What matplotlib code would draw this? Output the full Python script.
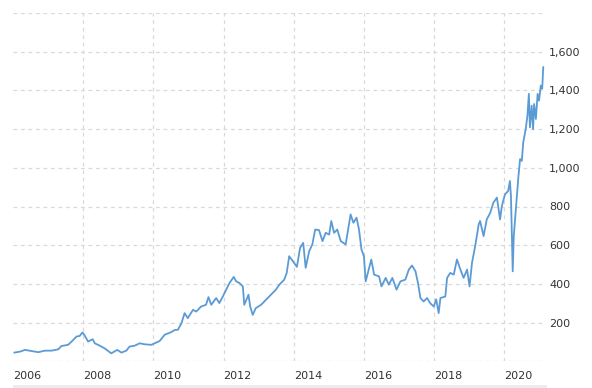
import matplotlib.pyplot as plt
from matplotlib.patches import Rectangle
from matplotlib.ticker import FuncFormatter

# decimal year / price
years = [2006.04, 2006.20, 2006.34, 2006.53, 2006.72, 2006.91, 2007.10, 2007.29, 2007.38, 2007.57,
         2007.67, 2007.81, 2007.90, 2007.98, 2008.03, 2008.14, 2008.27, 2008.33, 2008.47, 2008.61,
         2008.80, 2008.97, 2009.09, 2009.23, 2009.32, 2009.47, 2009.61, 2009.75, 2009.94, 2010.18,
         2010.32, 2010.50, 2010.61, 2010.70, 2010.80, 2010.89, 2010.98, 2011.13, 2011.22, 2011.36,
         2011.50, 2011.57, 2011.65, 2011.79, 2011.88, 2011.98, 2012.17, 2012.29, 2012.36, 2012.45,
         2012.55, 2012.59, 2012.71, 2012.76, 2012.83, 2012.92, 2013.07, 2013.21, 2013.35, 2013.49,
         2013.59, 2013.73, 2013.80, 2013.87, 2013.94, 2014.09, 2014.18, 2014.27, 2014.34, 2014.44,
         2014.53, 2014.61, 2014.72, 2014.82, 2014.91, 2015.01, 2015.07, 2015.15, 2015.24, 2015.34,
         2015.48, 2015.55, 2015.62, 2015.70, 2015.79, 2015.86, 2015.93, 2016.00, 2016.05, 2016.15,
         2016.21, 2016.29, 2016.43, 2016.50, 2016.62, 2016.71, 2016.81, 2016.93, 2017.04, 2017.18,
         2017.28, 2017.37, 2017.47, 2017.54, 2017.61, 2017.70, 2017.80, 2017.89, 2017.99, 2018.06,
         2018.13, 2018.18, 2018.32, 2018.37, 2018.46, 2018.56, 2018.65, 2018.75, 2018.84, 2018.94,
         2019.01, 2019.08, 2019.17, 2019.27, 2019.31, 2019.41, 2019.50, 2019.60, 2019.69, 2019.79,
         2019.88, 2019.93, 2020.02, 2020.11, 2020.16, 2020.19, 2020.24, 2020.27, 2020.33, 2020.40,
         2020.45, 2020.50, 2020.54, 2020.61, 2020.66, 2020.70, 2020.73, 2020.78, 2020.82, 2020.85,
         2020.90, 2020.95, 2020.99, 2021.04, 2021.08, 2021.11]
prices = [45, 50, 59, 53, 47, 55, 55, 62, 79, 85,
          102, 128, 131, 149, 137, 102, 114, 93, 81, 67,
          41, 59, 45, 55, 76, 81, 93, 88, 85, 105,
          137, 150, 162, 163, 197, 249, 223, 266, 257, 283,
          292, 332, 292, 327, 301, 335, 405, 436, 413, 405,
          387, 292, 344, 283, 240, 275, 292, 318, 344, 370,
          396, 422, 457, 543, 526, 488, 586, 612, 483, 569,
          604, 681, 678, 621, 664, 655, 725, 664, 681, 621,
          604, 681, 759, 716, 742, 681, 578, 543, 413, 483,
          526, 448, 439, 387, 431, 396, 431, 370, 413, 422,
          474, 495, 465, 405, 327, 309, 327, 300, 283, 320,
          249, 327, 335, 431, 457, 448, 526, 474, 431, 474,
          387, 509, 595, 707, 725, 647, 733, 768, 820, 846,
          733, 802, 863, 880, 932, 854, 465, 647, 785, 950,
          1045, 1036, 1131, 1200, 1270, 1382, 1209, 1321, 1200, 1330,
          1252, 1382, 1347, 1425, 1408, 1520]

xticks = [2006, 2008, 2010, 2012, 2014, 2016, 2018, 2020]
yticks = [0, 200, 400, 600, 800, 1000, 1200, 1400, 1600, 1800]

fig = plt.figure(figsize=(5.92, 3.88), dpi=100)
ax = fig.add_axes([13 / 592, 26.7 / 388, 532 / 592, 348.3 / 388])

ax.plot(years, prices, color='#5b9bd5', lw=1.3)

ax.set_xlim(2006, 2021.16)
ax.set_ylim(0, 1800)
ax.set_xticks(xticks)
ax.set_yticks(yticks)
ax.yaxis.tick_right()
ax.yaxis.set_major_formatter(FuncFormatter(
    lambda v, p: '' if v in (0, 1800) else '{:,.0f}'.format(v)))

for s in ax.spines.values():
    s.set_visible(False)
ax.tick_params(length=0, labelsize=8, labelcolor='#333333')
ax.tick_params(axis='x', pad=7)
ax.tick_params(axis='y', pad=3)
for lab in ax.get_xticklabels():
    lab.set_horizontalalignment('left')

ax.grid(True, color='#d9d9d9', lw=0.9, linestyle=(0, (3, 3)))
ax.xaxis.get_gridlines()[0].set_visible(False)
ax.set_axisbelow(True)

# thin grey strip along the bottom edge
fig.add_artist(Rectangle((13 / 592, 0), 534 / 592, 3 / 388,
                         transform=fig.transFigure, color='#ececec', lw=0))

fig.savefig('out.png', dpi=100)
